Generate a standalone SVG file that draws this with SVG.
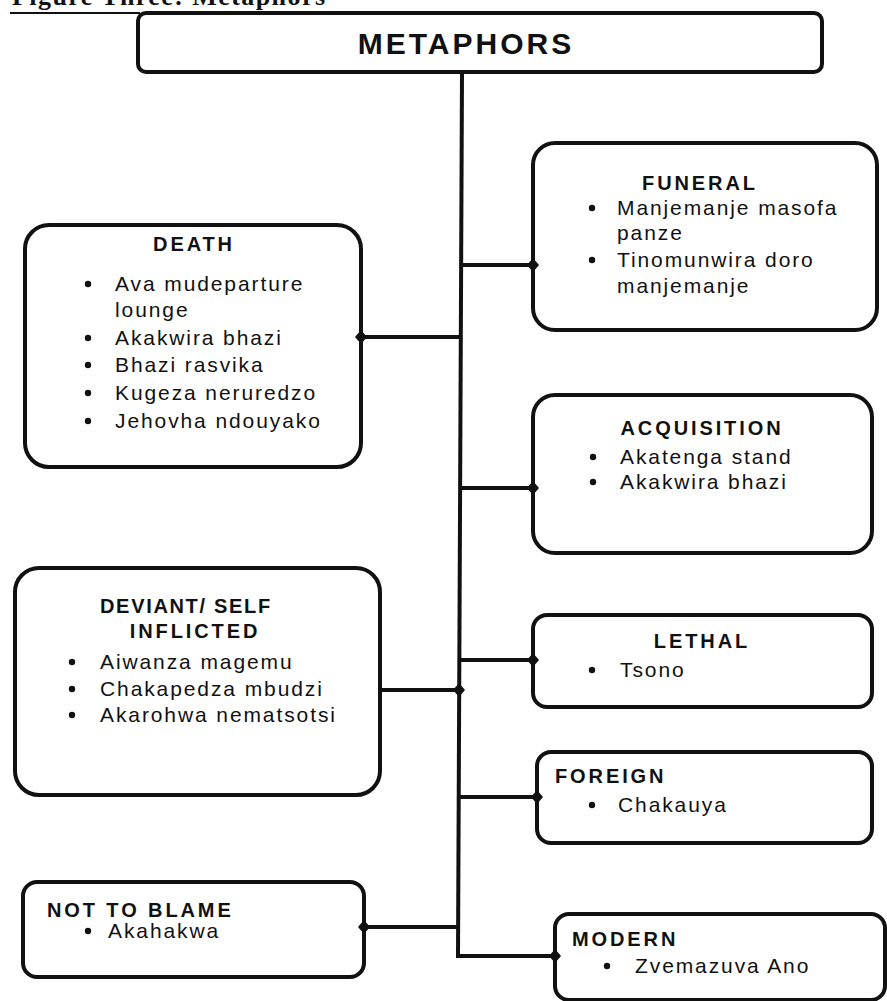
<svg xmlns="http://www.w3.org/2000/svg" width="887" height="1001" viewBox="0 0 887 1001">
<defs>
<style>
.box{fill:#fff;stroke:#111;stroke-width:4}
.ln{fill:none;stroke:#111;stroke-width:4}
.t{font-family:"Liberation Sans",Arial,sans-serif;font-weight:bold;font-size:20px;letter-spacing:2.9px;fill:#111}
.b{font-family:"Liberation Sans",Arial,sans-serif;font-size:21px;letter-spacing:1.9px;fill:#111}
.dot{fill:#111}
</style>
<marker id="dia" viewBox="-8 -8 16 16" refX="0" refY="0" markerWidth="16" markerHeight="16" markerUnits="userSpaceOnUse" orient="auto">
<path d="M-6,0 L0,-7 L6,0 L0,7 Z" fill="#111"/>
</marker>
</defs>
<rect width="887" height="1001" fill="#fff"/>
<g id="caption">
<text x="12" y="5" font-family="Liberation Serif,serif" font-weight="bold" font-size="26" textLength="313" fill="#111">Figure Three: Metaphors</text>
<line x1="10" y1="13" x2="140" y2="13" stroke="#111" stroke-width="2"/>
</g>
<g id="metaphors">
<rect class="box" x="138" y="13" width="684" height="59" rx="8"/>
<text x="466" y="54" font-family="Liberation Sans,Arial,sans-serif" font-weight="bold" font-size="30" letter-spacing="3" text-anchor="middle" fill="#111">METAPHORS</text>
</g>
<g id="funeral">
<rect class="box" x="533" y="143" width="344" height="187" rx="22"/>
<text class="t" x="700" y="190" text-anchor="middle">FUNERAL</text>
<circle class="dot" cx="592" cy="208" r="3.2"/>
<text class="b" x="617" y="215">Manjemanje masofa</text>
<text class="b" x="617" y="240">panze</text>
<circle class="dot" cx="592" cy="260" r="3.2"/>
<text class="b" x="617" y="267">Tinomunwira doro</text>
<text class="b" x="617" y="293">manjemanje</text>
</g>
<g id="death">
<rect class="box" x="25" y="225" width="336" height="242" rx="24"/>
<text class="t" x="194" y="251" text-anchor="middle">DEATH</text>
<circle class="dot" cx="88" cy="284" r="3.2"/>
<text class="b" x="115" y="291">Ava mudeparture</text>
<text class="b" x="115" y="317">lounge</text>
<circle class="dot" cx="88" cy="338" r="3.2"/>
<text class="b" x="115" y="345">Akakwira bhazi</text>
<circle class="dot" cx="88" cy="365" r="3.2"/>
<text class="b" x="115" y="372">Bhazi rasvika</text>
<circle class="dot" cx="88" cy="393" r="3.2"/>
<text class="b" x="115" y="400">Kugeza neruredzo</text>
<circle class="dot" cx="88" cy="421" r="3.2"/>
<text class="b" x="115" y="428">Jehovha ndouyako</text>
</g>
<g id="acquisition">
<rect class="box" x="533" y="395" width="339" height="158" rx="22"/>
<text class="t" x="702" y="435" text-anchor="middle">ACQUISITION</text>
<circle class="dot" cx="593" cy="457" r="3.2"/>
<text class="b" x="620" y="464">Akatenga stand</text>
<circle class="dot" cx="593" cy="482" r="3.2"/>
<text class="b" x="620" y="489">Akakwira bhazi</text>
</g>
<g id="deviant">
<rect class="box" x="15" y="568" width="365" height="227" rx="24"/>
<text class="t" x="100" y="613" textLength="173" lengthAdjust="spacing" letter-spacing="0">DEVIANT/ SELF</text>
<text class="t" x="195" y="638" text-anchor="middle">INFLICTED</text>
<circle class="dot" cx="72" cy="662" r="3.2"/>
<text class="b" x="100" y="669">Aiwanza magemu</text>
<circle class="dot" cx="72" cy="689" r="3.2"/>
<text class="b" x="100" y="696">Chakapedza mbudzi</text>
<circle class="dot" cx="72" cy="715" r="3.2"/>
<text class="b" x="100" y="722">Akarohwa nematsotsi</text>
</g>
<g id="lethal">
<rect class="box" x="533" y="615" width="339" height="92" rx="14"/>
<text class="t" x="702" y="648" text-anchor="middle">LETHAL</text>
<circle class="dot" cx="592" cy="670" r="3.2"/>
<text class="b" x="620" y="677">Tsono</text>
</g>
<g id="foreign">
<rect class="box" x="537" y="752" width="335" height="91" rx="14"/>
<text class="t" x="555" y="783">FOREIGN</text>
<circle class="dot" cx="592" cy="805" r="3.2"/>
<text class="b" x="618" y="812">Chakauya</text>
</g>
<g id="not-to-blame">
<rect class="box" x="23" y="882" width="341" height="95" rx="14"/>
<text class="t" x="47" y="917">NOT TO BLAME</text>
<circle class="dot" cx="88" cy="931" r="3.2"/>
<text class="b" x="108" y="938">Akahakwa</text>
</g>
<g id="modern">
<rect class="box" x="555" y="914" width="330" height="86" rx="14"/>
<text class="t" x="572" y="946">MODERN</text>
<circle class="dot" cx="607" cy="966" r="3.2"/>
<text class="b" x="635" y="973">Zvemazuva Ano</text>
</g>
<g id="connectors">
<path class="ln" stroke-width="5" d="M462,74 L458,956"/>
<path class="ln" d="M461,265 L533,265" marker-end="url(#dia)"/>
<path class="ln" d="M460,337 L361,337" marker-end="url(#dia)"/>
<path class="ln" d="M460,488 L533,488" marker-end="url(#dia)"/>
<path class="ln" d="M459,660 L533,660" marker-end="url(#dia)"/>
<path class="ln" d="M382,690 L459,690" marker-end="url(#dia)"/>
<path class="ln" d="M459,797 L537,797" marker-end="url(#dia)"/>
<path class="ln" d="M458,927 L364,927" marker-end="url(#dia)"/>
<path class="ln" d="M456,956 L555,956" marker-end="url(#dia)"/>
</g>
</svg>
